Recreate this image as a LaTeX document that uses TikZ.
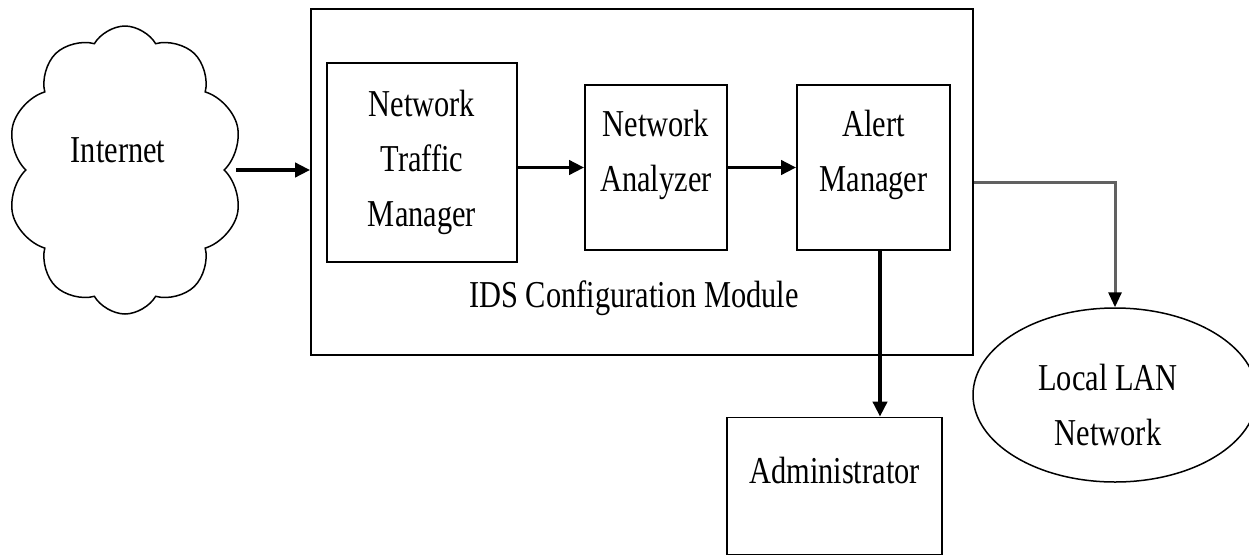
\documentclass[tikz,border=0pt]{standalone}
\usepackage{fontspec}
\setmainfont{Liberation Serif}[FakeStretch=0.8]
\usetikzlibrary{shapes.symbols,shapes.geometric,arrows.meta,calc}
\begin{document}
\begin{tikzpicture}[x=1pt,y=-1pt,
  every node/.style={font=\fontsize{38}{55}\selectfont, align=center},
  box/.style={draw=black, line width=1.7pt, inner sep=0pt},
  flow/.style={line width=3.8pt, -{Triangle[length=15pt,width=14pt]}},
  link/.style={draw=black!62, line width=3pt, -{Triangle[length=15pt,width=13pt,fill=black,color=black]}}]
  \useasboundingbox (0,0) rectangle (1249,554);
  \fill[white] (0,0) rectangle (1249,554);

  % IDS module frame and its inner stages
  \node[box, minimum width=662pt, minimum height=346pt] (ids) at (642,182) {};
  \node at (634,298) {IDS Configuration Module};
  \node[box, minimum width=190pt, minimum height=199pt] (ntm) at (422,162.5) {Network\\Traffic\\Manager};
  \node[box, minimum width=142pt, minimum height=165pt] (na) at (656,167.5) {};
  \node at (656,155) {Network\\Analyzer};
  \node[box, minimum width=153pt, minimum height=165pt] (am) at (873.5,167.5) {};
  \node at (873.5,155) {Alert\\Manager};

  % external parties
  \node[cloud, draw=black, line width=1.5pt, cloud puffs=10, cloud puff arc=120,
        aspect=0.8, minimum width=236pt, minimum height=288pt, inner sep=0pt] (net) at (125,170) {};
  \node at (118,150) {Internet};
  \node[box, minimum width=215pt, minimum height=137pt] (adm) at (834.5,486) {};
  \node at (834.5,470) {Administrator};
  \node[ellipse, draw=black, line width=1.5pt, minimum width=284pt, minimum height=174pt, inner sep=0pt] (lan) at (1115,395) {};
  \node at (1108,405) {Local LAN\\Network};

  % connectors
  \coordinate (netout) at ([xshift=11pt]net.east);
  \draw[flow] (netout) -- (netout -| ids.west);
  \draw[flow] (na.west -| ntm.east) -- (na.west);
  \draw[flow] (na.east) -- (am.west);
  \coordinate (drop) at ([xshift=6.5pt]am.south);
  \draw[flow] (drop) -- (drop |- adm.north);
  \draw[link] (ids.east) -| (lan.north);
\end{tikzpicture}
\end{document}
